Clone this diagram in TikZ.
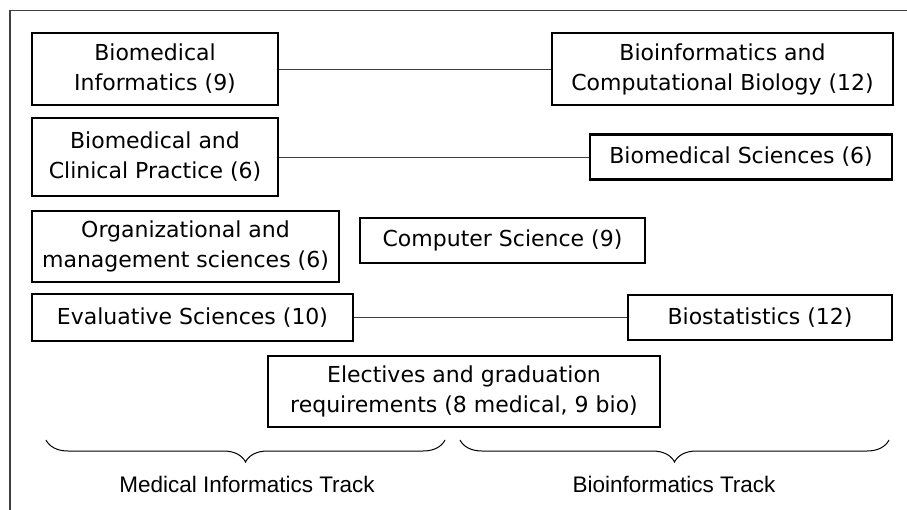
\documentclass[tikz,border=0pt]{standalone}
\usepackage{fontspec}
\newfontfamily\boxfont{DejaVu Sans}
\newfontfamily\trackfont{Liberation Sans}
\usetikzlibrary{decorations.pathreplacing}
\tikzset{
  course/.style={draw=black, line width=2.6pt, inner sep=0pt, align=center,
    font=\boxfont\fontsize{22}{30}\selectfont, text=black},
  link/.style={draw=black!75, line width=0.8pt},
  trackbrace/.style={draw=black, line width=1pt, decorate,
    decoration={brace, mirror, amplitude=22pt}},
  tracklabel/.style={font=\trackfont\fontsize{22.5}{27}\selectfont, text=black},
  frame/.style={draw=black!75, line width=1.6pt}
}
\begin{document}
\begin{tikzpicture}[x=1pt, y=-1pt]
\useasboundingbox (0,0) rectangle (907,510);
\fill[white] (0,0) rectangle (907,510);
\draw[frame] (10,510) -- (10,10.5) -- (907,10.5);

\node[course, minimum width=246pt, minimum height=72pt] (bi) at (155,69) {Biomedical\\Informatics (9)};
\node[course, minimum width=341pt, minimum height=72pt] (bcb) at (722.5,69) {Bioinformatics and\\Computational Biology (12)};
\node[course, minimum width=246pt, minimum height=78pt] (bcp) at (155,157) {Biomedical and\\Clinical Practice (6)};
\node[course, minimum width=302pt, minimum height=45pt] (bs) at (741,157) {Biomedical Sciences (6)};
\node[course, minimum width=307pt, minimum height=71pt] (oms) at (185.5,246.5) {Organizational and\\management sciences (6)};
\node[course, minimum width=285pt, minimum height=45pt] (cs) at (502.5,240.5) {Computer Science (9)};
\node[course, minimum width=321pt, minimum height=47pt] (es) at (192.5,317.5) {Evaluative Sciences (10)};
\node[course, minimum width=264pt, minimum height=45pt] (bst) at (760,317.5) {Biostatistics (12)};
\node[course, minimum width=392pt, minimum height=71pt] (el) at (464,391.5) {Electives and graduation\\requirements (8 medical, 9 bio)};

\draw[link] (bi.east) -- (bcb.west);
\draw[link] (bcp.east) -- (bs.west);
\draw[link] (es.east) -- (bst.west);

\coordinate (mA) at (46,440);
\coordinate (mB) at (445,440);
\coordinate (bA) at (460,440);
\coordinate (bB) at (889,440);
\draw[trackbrace] (mA) -- (mB);
\draw[trackbrace] (bA) -- (bB);

\node[tracklabel] (mt) at (247,484) {Medical Informatics Track};
\node[tracklabel] (bt) at (674,484) {Bioinformatics Track};
\end{tikzpicture}
\end{document}
